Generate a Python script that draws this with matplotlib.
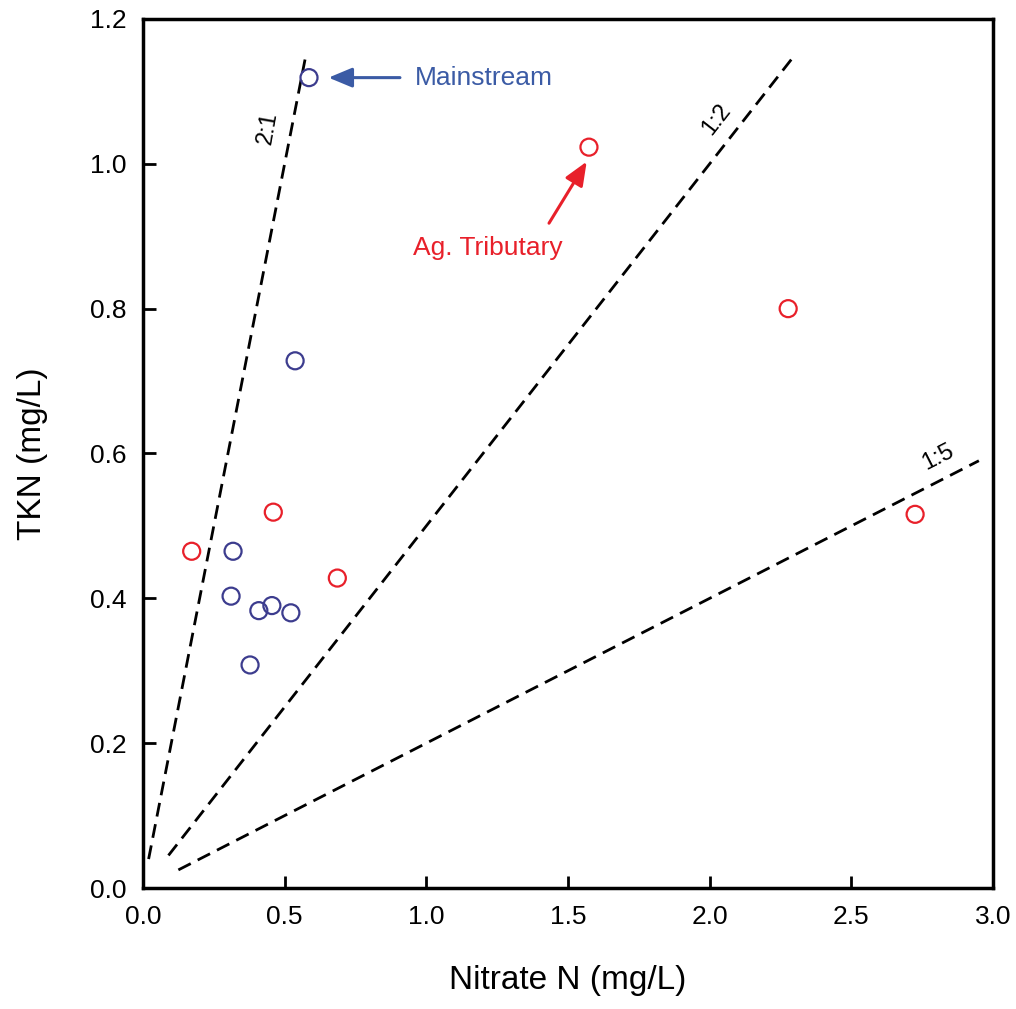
import numpy as np
import matplotlib
matplotlib.use('Agg')
import matplotlib.pyplot as plt

plt.rcParams['font.family'] = ['Liberation Sans', 'DejaVu Sans']

# Mainstream sites (blue)
main_x = [0.586, 0.537, 0.318, 0.311, 0.409, 0.455, 0.522, 0.378]
main_y = [1.119, 0.728, 0.465, 0.403, 0.383, 0.390, 0.380, 0.308]

# Agricultural tributaries (red)
trib_x = [0.172, 0.460, 0.686, 1.574, 2.277, 2.725]
trib_y = [0.465, 0.519, 0.428, 1.023, 0.800, 0.516]

# reference ratio lines: label, slope (TKN / nitrate), x start, x end
ratio_labels = ['2:1', '1:2', '1:5']
ratio_slopes = [2.0, 0.5, 0.2]
ratio_x0 = [0.02, 0.09, 0.125]
ratio_x1 = [0.572, 2.29, 2.95]

fig = plt.figure(figsize=(10.16, 10.09), dpi=100)
ax = fig.add_axes([0.1407, 0.1199, 0.8367, 0.8613])

for s, x0, x1 in zip(ratio_slopes, ratio_x0, ratio_x1):
    xs = np.array([x0, x1])
    ax.plot(xs, s * xs, color='black', lw=2.0, dashes=(5, 2.8))

ax.scatter(main_x, main_y, s=150, facecolors='none', edgecolors='#3c3c8e', linewidths=1.6, zorder=3)
ax.scatter(trib_x, trib_y, s=150, facecolors='none', edgecolors='#e8202a', linewidths=1.6, zorder=3)

# ratio labels
ax.text(0.44, 1.05, ratio_labels[0], fontsize=17, rotation=80, ha='center', va='center')
ax.text(2.026, 1.061, ratio_labels[1], fontsize=17, rotation=52, ha='center', va='center')
ax.text(2.806, 0.595, ratio_labels[2], fontsize=17, rotation=27, ha='center', va='center')

# annotations
ax.annotate('', xy=(0.655, 1.119), xytext=(0.907, 1.119),
            arrowprops=dict(arrowstyle='-|>,head_length=0.6,head_width=0.25', color='#3b5ba5', lw=2.2,
                            mutation_scale=24, shrinkA=0, shrinkB=0))
ax.text(0.96, 1.119, 'Mainstream', color='#3b5ba5', fontsize=19, va='center', ha='left')

ax.annotate('', xy=(1.566, 1.003), xytext=(1.433, 0.918),
            arrowprops=dict(arrowstyle='-|>,head_length=0.6,head_width=0.25', color='#e8202a', lw=2.2,
                            mutation_scale=24, shrinkA=0, shrinkB=0))
ax.text(0.953, 0.884, 'Ag. Tributary', color='#e8202a', fontsize=19, va='center', ha='left')

ax.set_xlim(0, 3.0)
ax.set_ylim(0, 1.2)
ax.set_xticks([0.0, 0.5, 1.0, 1.5, 2.0, 2.5, 3.0])
ax.set_yticks([0.0, 0.2, 0.4, 0.6, 0.8, 1.0, 1.2])
ax.xaxis.set_major_formatter(matplotlib.ticker.FormatStrFormatter('%.1f'))
ax.yaxis.set_major_formatter(matplotlib.ticker.FormatStrFormatter('%.1f'))
ax.tick_params(direction='in', length=9, width=2, labelsize=19, pad=12)
for sp in ax.spines.values():
    sp.set_linewidth(2.5)

ax.set_xlabel('Nitrate N (mg/L)', fontsize=24, labelpad=26)
ax.set_ylabel('TKN (mg/L)', fontsize=24, labelpad=30)

fig.savefig('out.png', dpi=100)
